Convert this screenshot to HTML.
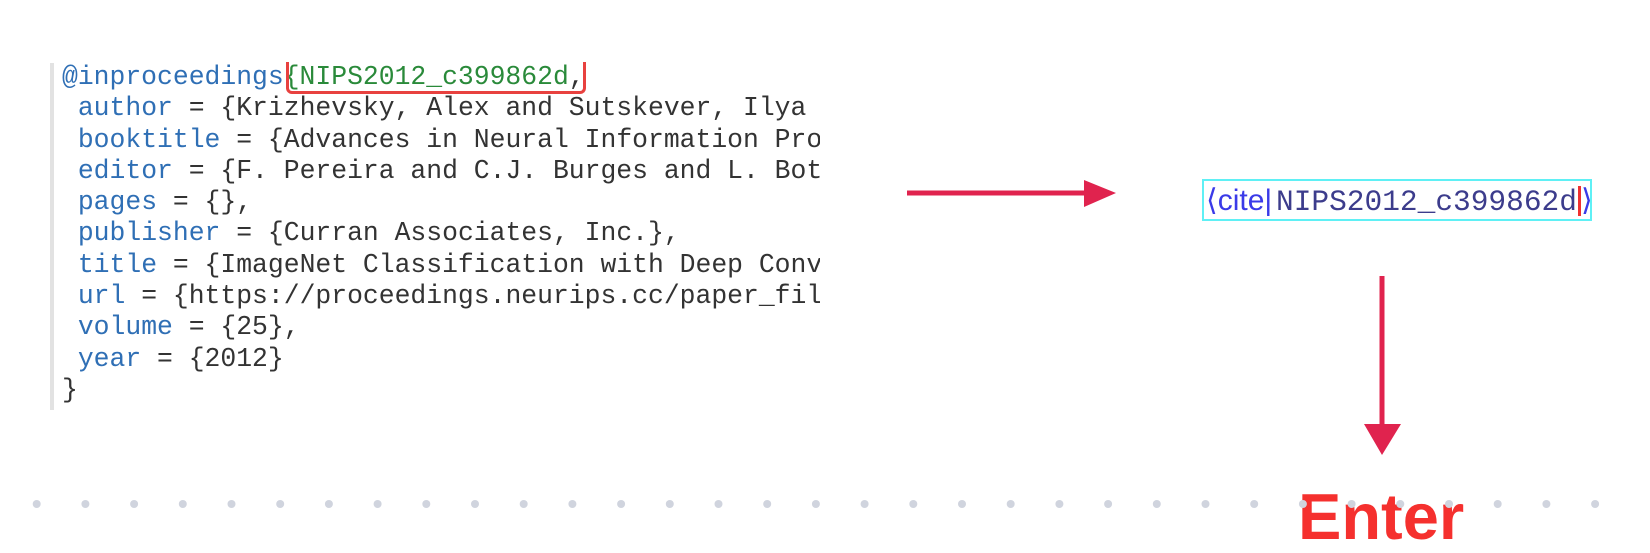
<!DOCTYPE html>
<html><head><meta charset="utf-8"><style>
html,body{margin:0;padding:0;background:#fff;}
body{width:1650px;height:553px;position:relative;overflow:hidden;}
.code{position:absolute;left:62px;top:62px;width:758px;overflow:hidden;font-family:"Liberation Mono",monospace;font-size:26.4px;line-height:31.3px;color:#333;white-space:pre;}
.k{color:#2f6fb5}.g{color:#2a8a3a}
.bar{position:absolute;left:50px;top:63px;width:4px;height:347px;background:#e2e2e2;}
.rbox{position:absolute;left:286px;top:62px;width:294px;height:29px;border:3px solid #e8413f;border-top:none;border-radius:0 0 6px 6px;}
.cite{position:absolute;left:1202px;top:179px;width:390px;height:42px;border:2px solid #5ff0f5;box-sizing:border-box;white-space:nowrap;}
.cs{position:absolute;left:2px;top:2px;font-family:"Liberation Sans",sans-serif;font-size:30px;color:#3a3ae8;}
.cm{position:absolute;left:72px;top:4px;font-family:"Liberation Mono",monospace;font-size:29.5px;color:#3c3c8c;}
.enter{position:absolute;left:1298px;top:484px;font-family:"Liberation Sans",sans-serif;font-weight:bold;font-size:65px;color:#f5302e;line-height:1;}
</style></head><body>
<div class="bar"></div>
<div class="code"><span class="k">@inproceedings</span><span class="g">{NIPS2012_c399862d</span>,
 <span class="k">author</span> = {Krizhevsky, Alex and Sutskever, Ilya and Hinton
 <span class="k">booktitle</span> = {Advances in Neural Information Processing
 <span class="k">editor</span> = {F. Pereira and C.J. Burges and L. Bottou
 <span class="k">pages</span> = {},
 <span class="k">publisher</span> = {Curran Associates, Inc.},
 <span class="k">title</span> = {ImageNet Classification with Deep Convolutional
 <span class="k">url</span> = {https://proceedings.neurips.cc/paper_files/paper
 <span class="k">volume</span> = {25},
 <span class="k">year</span> = {2012}
}</div>
<div class="rbox"></div>
<div class="cite"><span class="cs">⟨cite|</span><span class="cm">NIPS2012_c399862d</span><span style="position:absolute;left:374px;top:5px;width:3px;height:30px;background:#f03030"></span><span class="cs" style="left:377px">⟩</span></div>
<div class="enter">Enter</div>
<svg width="1650" height="553" style="position:absolute;left:0;top:0">
<line x1="907" y1="193" x2="1090" y2="193" stroke="#e0234e" stroke-width="5"/>
<polygon points="1084,180 1116,193 1084,207" fill="#e0234e"/>
<line x1="1382" y1="276" x2="1382" y2="430" stroke="#e0234e" stroke-width="5"/>
<polygon points="1364,424 1401,424 1382,455" fill="#e0234e"/>
<g fill="#d0d4de">
<circle cx="36.7" cy="504" r="4"/><circle cx="85.4" cy="504" r="4"/><circle cx="134.1" cy="504" r="4"/><circle cx="182.8" cy="504" r="4"/><circle cx="231.5" cy="504" r="4"/><circle cx="280.2" cy="504" r="4"/><circle cx="328.9" cy="504" r="4"/><circle cx="377.6" cy="504" r="4"/><circle cx="426.3" cy="504" r="4"/><circle cx="475" cy="504" r="4"/><circle cx="523.7" cy="504" r="4"/><circle cx="572.4" cy="504" r="4"/><circle cx="621.1" cy="504" r="4"/><circle cx="669.8" cy="504" r="4"/><circle cx="718.5" cy="504" r="4"/><circle cx="767.2" cy="504" r="4"/><circle cx="815.9" cy="504" r="4"/><circle cx="864.6" cy="504" r="4"/><circle cx="913.3" cy="504" r="4"/><circle cx="962" cy="504" r="4"/><circle cx="1010.7" cy="504" r="4"/><circle cx="1059.4" cy="504" r="4"/><circle cx="1108.1" cy="504" r="4"/><circle cx="1156.8" cy="504" r="4"/><circle cx="1205.5" cy="504" r="4"/><circle cx="1254.2" cy="504" r="4"/><circle cx="1302.9" cy="504" r="4"/><circle cx="1351.6" cy="504" r="4"/><circle cx="1400.3" cy="504" r="4"/><circle cx="1449" cy="504" r="4"/><circle cx="1497.7" cy="504" r="4"/><circle cx="1546.4" cy="504" r="4"/><circle cx="1595.1" cy="504" r="4"/>
</g>
</svg>
</body></html>
